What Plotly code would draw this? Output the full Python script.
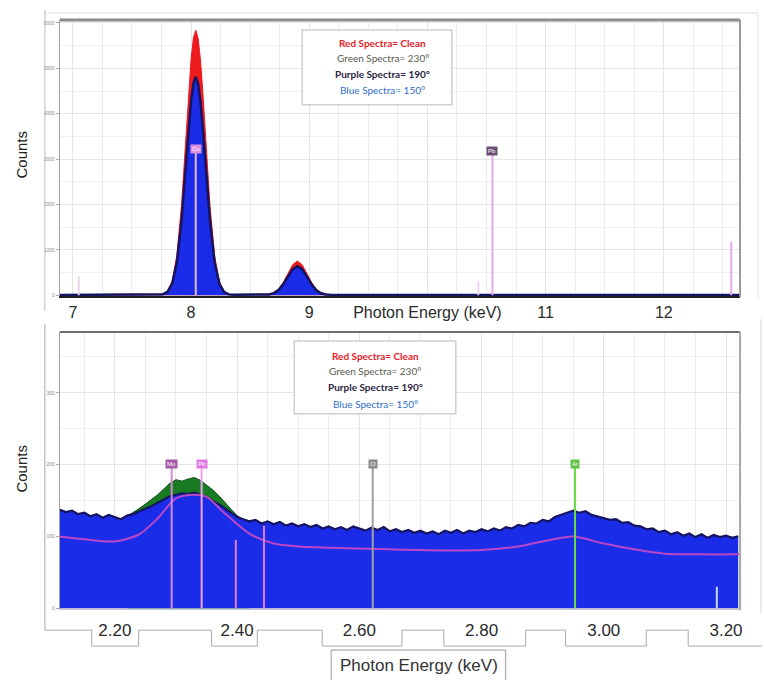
import numpy as np
import plotly.graph_objects as go

# ---------------- Cu K region (upper panel) ----------------
top_energy = [6.89, 7.20, 7.50, 7.72, 7.76, 7.80, 7.84, 7.88, 7.92, 7.96, 7.98, 8.00,
              8.02, 8.04, 8.06, 8.08, 8.10, 8.12, 8.16, 8.20, 8.24, 8.28, 8.32, 8.36,
              8.50, 8.62, 8.66, 8.70, 8.74, 8.78, 8.82, 8.86, 8.90, 8.94, 8.98, 9.02,
              9.06, 9.10, 9.14, 9.18, 9.30, 9.60, 10.0, 10.5, 11.0, 11.5, 12.0, 12.3, 12.645]
top_red = [8, 8, 9, 10, 25, 90, 305, 875, 2000, 3630, 4470, 5190,
           5670, 5840, 5660, 5180, 4460, 3610, 1980, 860, 300, 88, 24, 10,
           9, 12, 22, 55, 134, 283, 486, 674, 752, 672, 480, 280,
           130, 54, 21, 12, 9, 8, 8, 7, 7, 7, 6, 6, 6]
top_blue = [6, 6, 7, 8, 20, 72, 250, 720, 1650, 2990, 3680, 4270,
            4670, 4810, 4660, 4260, 3670, 2980, 1640, 710, 245, 70, 18, 8,
            7, 10, 18, 46, 112, 240, 414, 574, 640, 572, 410, 238,
            110, 44, 17, 9, 7, 6, 6, 5, 5, 5, 5, 5, 5]

top_tick_vals = [7, 8, 9, 10, 11, 12]
top_tick_text = ["7", "8", "9", "Photon Energy (keV)", "11", "12"]
top_count_ticks = [0, 1000, 2000, 3000, 4000, 5000, 6000]
top_count_text = ["0", "1000", "2000", "3000", "4000", "5000", "6000"]

# element markers (energy, height of marker line)
top_marker_kev = [7.05, 8.04, 10.43, 10.55, 12.57]
top_marker_cts = [420, 3220, 300, 3180, 1180]
top_marker_col = ["#e6d6e6", "#e3b8ec", "#f0d0f0", "#e6a6e8", "#e8a8ec"]
top_tag_kev = [8.04, 10.55]
top_tag_cts = [3220, 3180]
top_tag_txt = ["Cu", "Pb"]
top_tag_bg = ["#d98ee0", "#6a4f74"]

# ---------------- low-energy region (lower panel) ----------------
low_start_kev = 2.11
low_step_kev = 0.01
low_blue = [137, 134, 136, 131, 133, 128, 131, 126, 130, 127,
            124, 129, 131, 135, 138, 142, 147, 151, 156, 158,
            160, 159, 161, 158, 155, 149, 145, 139, 133, 127,
            124, 121, 123, 118, 121, 117, 120, 115, 118, 114,
            117, 113, 116, 111, 114, 110, 113, 109, 114, 111,
            108, 112, 109, 113, 107, 110, 106, 109, 105, 108,
            104, 107, 103, 108, 105, 109, 104, 108, 106, 110,
            107, 111, 108, 113, 111, 116, 114, 119, 118, 123,
            121, 127, 130, 134, 136, 133, 135, 130, 128, 126,
            123, 124, 119, 120, 115, 114, 110, 111, 106, 108,
            103, 106, 101, 104, 99, 103, 98, 102, 99, 101,
            98, 100]
low_energy = np.round(low_start_kev + low_step_kev * np.arange(len(low_blue)), 3)

low_green_energy = [2.22, 2.23, 2.24, 2.25, 2.26, 2.27, 2.28, 2.29, 2.30, 2.31, 2.32,
                    2.33, 2.34, 2.35, 2.36, 2.37, 2.38, 2.39, 2.40, 2.41, 2.42]
low_green = [128, 133, 139, 145, 151, 158, 166, 174, 179, 177, 180,
             182, 178, 172, 165, 157, 147, 138, 129, 123, 119]

low_red_energy = [2.11, 2.15, 2.20, 2.24, 2.27, 2.30, 2.33, 2.35, 2.38, 2.42, 2.46, 2.50,
                  2.60, 2.70, 2.80, 2.86, 2.90, 2.95, 3.00, 3.05, 3.10, 3.16, 3.223]
low_red = [100, 96, 93, 103, 125, 153, 158, 155, 132, 104, 90, 86,
           83, 81, 81, 86, 93, 100, 90, 82, 76, 75, 75]

low_tick_vals = [2.20, 2.40, 2.60, 2.80, 3.00, 3.20]
low_tick_text = ["2.20", "2.40", "2.60", "2.80", "3.00", "3.20"]
low_count_ticks = [0, 100, 200, 300]
low_count_text = ["0", "100", "200", "300"]

low_marker_kev = [2.293, 2.342, 2.398, 2.444, 2.622, 2.953, 3.185]
low_marker_cts = [201, 201, 95, 115, 201, 201, 30]
low_marker_col = ["#d28ad6", "#f0a0f0", "#d880dc", "#d880dc", "#a0a0a0", "#66dd44", "#c8d8ff"]
low_tag_kev = [2.293, 2.342, 2.622, 2.953]
low_tag_cts = [201, 201, 201, 201]
low_tag_txt = ["Mo", "Pb", "Cl", "Ar"]
low_tag_bg = ["#a45aa8", "#e27ae6", "#8a8a8a", "#62c24a"]

legend_lines = ["Red Spectra= Clean", "Green Spectra= 230°",
                "Purple Spectra= 190°", "Blue Spectra= 150°"]
legend_colors = ["#e8202a", "#5a5a52", "#2a2440", "#2f6fc4"]
legend_bold = [True, False, True, False]

W, H = 764, 680
def px(xp):
    return xp / W
def py(yp):
    return 1 - yp / H

BLUE = "rgb(26,44,232)"
NAVY = "rgb(20,20,96)"
RED = "rgb(238,26,30)"
GREEN = "rgb(26,124,34)"
MAGENTA = "rgb(186,70,200)"
FONT = "Liberation Sans, Arial, sans-serif"

fig = go.Figure()

# upper panel spectra
fig.add_trace(go.Scatter(x=top_energy, y=top_red, mode="lines", fill="tozeroy",
                         fillcolor=RED, line=dict(color=RED, width=1),
                         xaxis="x", yaxis="y", showlegend=False))
fig.add_trace(go.Scatter(x=top_energy, y=top_blue, mode="lines", fill="tozeroy",
                         fillcolor=BLUE, line=dict(color=NAVY, width=2.5),
                         xaxis="x", yaxis="y", showlegend=False))

# lower panel spectra
fig.add_trace(go.Scatter(x=low_green_energy, y=low_green, mode="lines", fill="tozeroy",
                         fillcolor=GREEN, line=dict(color="rgb(18,80,24)", width=1),
                         xaxis="x2", yaxis="y2", showlegend=False))
fig.add_trace(go.Scatter(x=low_energy, y=low_blue, mode="lines", fill="tozeroy",
                         fillcolor=BLUE, line=dict(color=NAVY, width=2.2),
                         xaxis="x2", yaxis="y2", showlegend=False))
fig.add_trace(go.Scatter(x=low_red_energy, y=low_red, mode="lines",
                         line=dict(color=MAGENTA, width=2, shape="spline", smoothing=0.8),
                         xaxis="x2", yaxis="y2", showlegend=False))

shapes = []
annotations = []

# element marker lines
for e, h, c in zip(top_marker_kev, top_marker_cts, top_marker_col):
    shapes.append(dict(type="line", xref="x", yref="y", x0=e, x1=e, y0=0, y1=h,
                       line=dict(color=c, width=2)))
for e, h, c in zip(low_marker_kev, low_marker_cts, low_marker_col):
    shapes.append(dict(type="line", xref="x2", yref="y2", x0=e, x1=e, y0=0, y1=h,
                       line=dict(color=c, width=2)))

for e, h, t, bg in zip(top_tag_kev, top_tag_cts, top_tag_txt, top_tag_bg):
    annotations.append(dict(xref="x", yref="y", x=e, y=h, text=t, showarrow=False,
                            font=dict(size=6, color="white", family=FONT),
                            bgcolor=bg, borderpad=1, xanchor="center", yanchor="middle"))
for e, h, t, bg in zip(low_tag_kev, low_tag_cts, low_tag_txt, low_tag_bg):
    annotations.append(dict(xref="x2", yref="y2", x=e, y=h, text=t, showarrow=False,
                            font=dict(size=6, color="white", family=FONT),
                            bgcolor=bg, borderpad=1, xanchor="center", yanchor="middle"))

# panel frames
def seg(x0, y0, x1, y1, color, width):
    shapes.append(dict(type="line", xref="paper", yref="paper",
                       x0=px(x0), y0=py(y0), x1=px(x1), y1=py(y1),
                       line=dict(color=color, width=width)))

seg(45, 13, 760, 13, "#dedede", 1)
seg(45, 10, 45, 312, "#bdbdbd", 1)
seg(760, 13, 760, 300, "#e2e2e2", 1)
seg(60, 20, 742, 20, "#8c8c8c", 3)
seg(742, 20, 742, 298, "#9a9a9a", 2)
seg(60, 333, 742, 333, "#6e6e6e", 2)
seg(742, 333, 742, 612, "#a8a8a8", 2)
seg(763, 320, 763, 615, "#d8d8d8", 1)

# stepped frame carrying the lower energy labels
steps = [(45, 325), (45, 632), (92, 632), (92, 648), (139, 648), (139, 632), (212, 632),
         (212, 648), (258, 648), (258, 632), (323, 632), (323, 648), (403, 648), (403, 632),
         (445, 632), (445, 648), (527, 648), (527, 632), (567, 632), (567, 648), (648, 648),
         (648, 632), (690, 632), (690, 648), (764, 648)]
path = "M " + " L ".join(f"{px(a):.5f},{py(b):.5f}" for a, b in steps)
shapes.append(dict(type="path", xref="paper", yref="paper", path=path,
                   line=dict(color="#a9a9a9", width=1)))
box = [(332, 690), (332, 652), (507, 652), (507, 690)]
path = "M " + " L ".join(f"{px(a):.5f},{py(b):.5f}" for a, b in box)
shapes.append(dict(type="path", xref="paper", yref="paper", path=path,
                   line=dict(color="#9a9a9a", width=1)))
annotations.append(dict(xref="paper", yref="paper", x=px(420), y=py(667),
                        text="Photon Energy (keV)", showarrow=False,
                        font=dict(size=17, color="#333", family=FONT),
                        xanchor="center", yanchor="middle"))

# key boxes
for (x0, y0, x1, y1, ys, xc) in [(303, 30, 453, 105, [43, 58, 74, 90], 384),
                                 (295, 342, 457, 415, [357, 372, 388, 405], 376)]:
    shapes.append(dict(type="rect", xref="paper", yref="paper",
                       x0=px(x0), y0=py(y1), x1=px(x1), y1=py(y0),
                       fillcolor="white", line=dict(color="#cfcfcf", width=1.5)))
    for txt, col, b, yy in zip(legend_lines, legend_colors, legend_bold, ys):
        annotations.append(dict(xref="paper", yref="paper", x=px(xc), y=py(yy),
                                text=f"<b>{txt}</b>" if b else txt, showarrow=False,
                                font=dict(size=10, color=col, family="Lato, " + FONT),
                                xanchor="center", yanchor="middle"))

# y titles
for yy in (155, 470):
    annotations.append(dict(xref="paper", yref="paper", x=px(22), y=py(yy),
                            text="Counts", textangle=-90, showarrow=False,
                            font=dict(size=15, color="#222", family=FONT),
                            xanchor="center", yanchor="middle"))

fig.update_layout(
    width=W, height=H, autosize=False,
    margin=dict(l=0, r=0, t=0, b=0),
    paper_bgcolor="white", plot_bgcolor="white",
    shapes=shapes, annotations=annotations,
    xaxis=dict(domain=[px(60), px(742)], range=[6.89, 12.645], anchor="y",
               tickmode="array", tickvals=top_tick_vals, ticktext=top_tick_text,
               tickfont=dict(size=16, color="#2a2a2a", family=FONT),
               ticks="outside", ticklen=1, tickcolor="rgba(0,0,0,0)", ticklabelstandoff=0,
               showgrid=True, gridcolor="#e4e4e4", gridwidth=1,
               minor=dict(dtick=0.25, tick0=7, showgrid=True, gridcolor="#ececec"),
               showline=True, linecolor="#1e1e1e", linewidth=2, zeroline=False),
    yaxis=dict(domain=[py(297), py(20)], range=[-20, 6066], anchor="x",
               tickmode="array", tickvals=top_count_ticks, ticktext=top_count_text,
               tickfont=dict(size=5, color="#888", family=FONT),
               ticks="outside", ticklen=3, tickcolor="#aaa",
               showgrid=True, gridcolor="#e6e6e6",
               minor=dict(dtick=500, showgrid=True, gridcolor="#f0f0f0"),
               showline=True, linecolor="#a0a0a0", linewidth=1, zeroline=False),
    xaxis2=dict(domain=[px(60), px(742)], range=[2.110, 3.223], anchor="y2",
                tickmode="array", tickvals=low_tick_vals, ticktext=low_tick_text,
                tickfont=dict(size=17, color="#2a2a2a", family=FONT),
                ticks="outside", ticklen=1, tickcolor="rgba(0,0,0,0)", ticklabelstandoff=4,
                showgrid=True, gridcolor="#e4e4e4",
                minor=dict(dtick=0.05, tick0=2.2, showgrid=True, gridcolor="#ececec"),
                showline=True, linecolor="#c8c8c8", linewidth=1, zeroline=False),
    yaxis2=dict(domain=[py(611), py(333)], range=[-1.4, 384.7], anchor="x2",
                tickmode="array", tickvals=low_count_ticks, ticktext=low_count_text,
                tickfont=dict(size=5, color="#888", family=FONT),
                ticks="outside", ticklen=3, tickcolor="#aaa",
                showgrid=True, gridcolor="#e6e6e6",
                minor=dict(dtick=50, showgrid=True, gridcolor="#f0f0f0"),
                showline=True, linecolor="#a0a0a0", linewidth=1, zeroline=False),
)

fig.write_html("out.html")
